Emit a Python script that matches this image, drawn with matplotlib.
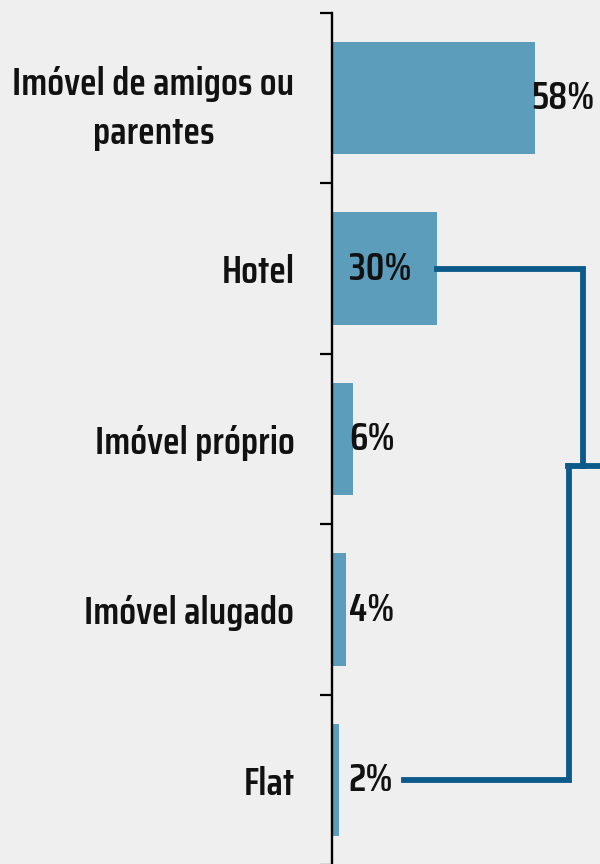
import numpy as np
import matplotlib
matplotlib.use("Agg")
import matplotlib.pyplot as plt

# data
categories = ["Imóvel de amigos ou\nparentes", "Hotel", "Imóvel próprio",
              "Imóvel alugado", "Flat"]
values = [58, 30, 6, 4, 2]
value_labels = ["58%", "30%", "6%", "4%", "2%"]

bar_color = "#5b9dba"
line_color = "#0b5a8a"
bg_color = "#efefef"
fnt = ["Saira Condensed", "DejaVu Sans"]
fsize = 28

fig = plt.figure(figsize=(6, 8.64), dpi=100)
fig.patch.set_facecolor(bg_color)
ax = fig.add_axes([332 / 600, -0.0015, 1 - 332 / 600, 1 - 13 / 864 + 0.0015])
ax.set_facecolor(bg_color)

y = np.arange(len(categories))
ax.barh(y, values, height=0.66, color=bar_color)
ax.set_ylim(len(categories) - 0.5, -0.5)
ax.set_xlim(0, 268 / 3.5)

# ticks at category boundaries, labels at centers
ax.set_yticks(np.arange(len(categories) + 1) - 0.5)
ax.set_yticklabels([])
ax.set_yticks(y, minor=True)
ax.set_yticklabels(categories, minor=True, fontsize=fsize, family=fnt,
                   weight=600, color="#111111", ha="right",
                   multialignment="center", linespacing=1.45)
ax.tick_params(axis="y", which="major", length=9, width=1.6, color="black")
ax.tick_params(axis="y", which="minor", length=0, pad=27)
ax.set_xticks([])
for s in ["top", "right", "bottom"]:
    ax.spines[s].set_visible(False)
ax.spines["left"].set_linewidth(1.7)

# value labels
for i, v in enumerate(values):
    lx = v - 1.1 if v > 50 else 4.8
    ax.text(lx, i, value_labels[i], va="center", ha="left", fontsize=fsize,
            family=fnt, weight=600, color="#111111")

# connector lines (Hotel -> Flat)
hotel = categories.index("Hotel")
flat = categories.index("Flat")
mid = 2.16
lw = 4.2
ax.plot([30, 71.7, 71.7], [hotel, hotel, mid], color=line_color, lw=lw,
        clip_on=False, solid_joinstyle="miter")
ax.plot([67.5, 80], [mid, mid], color=line_color, lw=lw, clip_on=False)
ax.plot([67.6, 67.6, 20.6], [mid, flat, flat], color=line_color, lw=lw,
        clip_on=False, solid_joinstyle="miter")

fig.savefig("out.png", dpi=100, facecolor=bg_color)
